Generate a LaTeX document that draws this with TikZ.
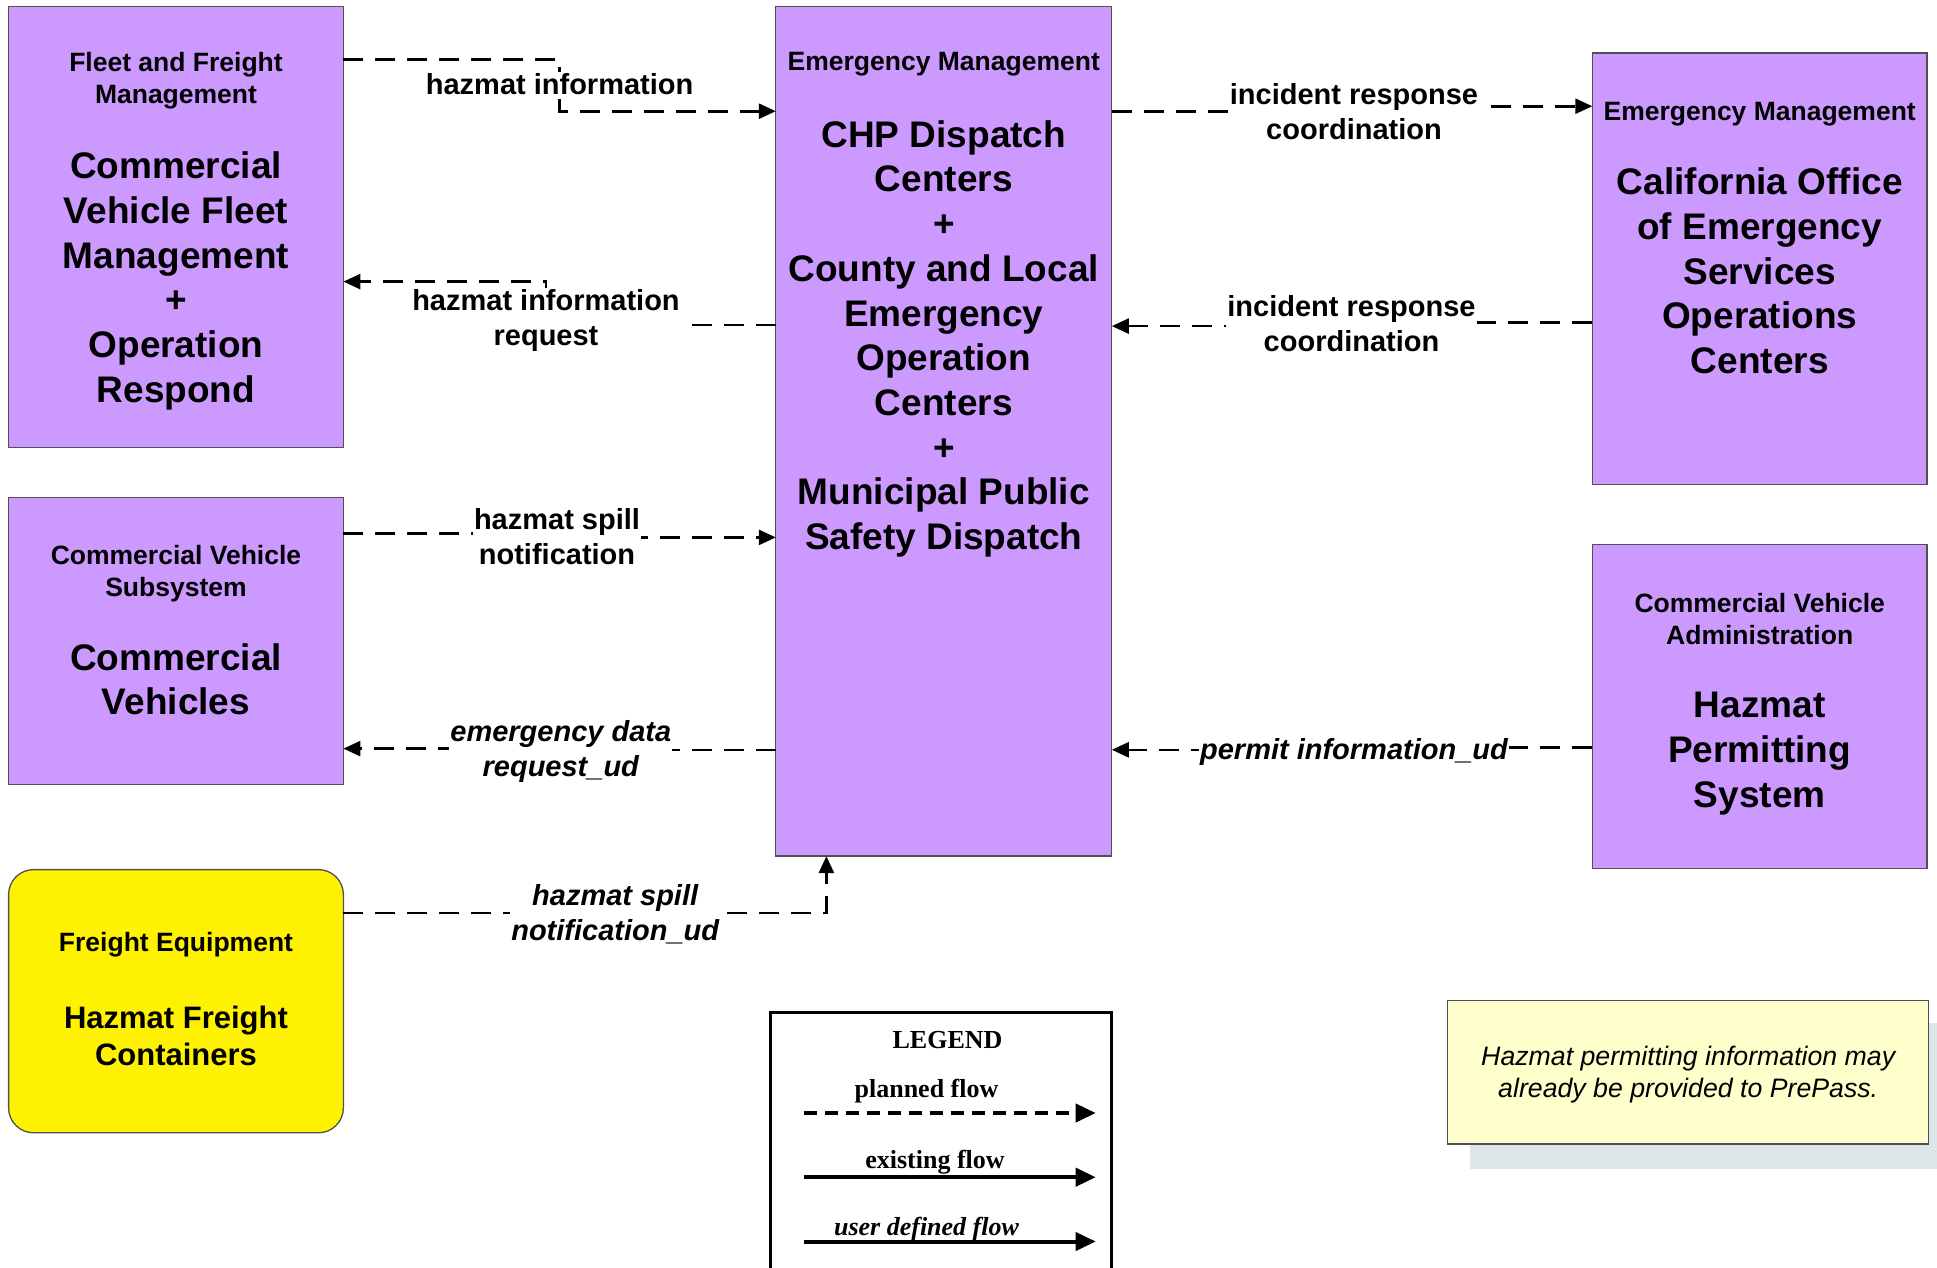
\documentclass[tikz,border=0pt]{standalone}
\usepackage{fontspec}
\setmainfont{Liberation Sans}
\newfontfamily\legendfont{Liberation Serif}
\usetikzlibrary{arrows.meta,calc}
\definecolor{boxpurple}{RGB}{204,153,255}
\definecolor{notefill}{RGB}{255,255,204}
\definecolor{noteshadow}{RGB}{221,230,232}
\definecolor{boxline}{RGB}{80,80,80}
\begin{document}
\begin{tikzpicture}[x=1pt,y=-1pt,
  sysbox/.style={draw=boxline, line width=1.3pt, fill=boxpurple, anchor=north west, inner sep=0pt, outer sep=0pt},
  hdr/.style={font=\fontsize{26.5}{32}\selectfont\bfseries, align=center, inner sep=0pt},
  big/.style={font=\fontsize{37}{44.7}\selectfont\bfseries, align=center, inner sep=0pt},
  flow/.style={line width=2.6pt, dash pattern=on 20pt off 12pt, -{Triangle[length=17pt,width=15pt]}},
  lbl/.style={font=\fontsize{29}{35}\selectfont\bfseries, align=center, fill=white, inner sep=1pt},
  ilbl/.style={font=\fontsize{29}{35}\selectfont\bfseries\itshape, align=center, fill=white, inner sep=1pt},
  legtxt/.style={font=\legendfont\bfseries\fontsize{26}{31}\selectfont, inner sep=0pt},
  legarrow/.style={line width=4pt, -{Triangle[length=20pt,width=18pt]}},
]
\clip (0,0) rectangle (1937,1267);
\fill[white] (0,0) rectangle (1937,1267);

% boxes
\node[sysbox, minimum width=334.8pt, minimum height=441pt] (fleet) at (8.6,6.2) {};
\node[sysbox, minimum width=334.8pt, minimum height=286.6pt] (cvs) at (8.6,497.8) {};
\node[sysbox, fill=yellow, rounded corners=25pt, minimum width=334.8pt, minimum height=263.2pt] (freight) at (8.6,869.6) {};
\node[sysbox, minimum width=336pt, minimum height=849.9pt] (em) at (775.8,6.2) {};
\node[sysbox, minimum width=334.7pt, minimum height=431.1pt] (caloes) at (1592.3,53.1) {};
\node[sysbox, minimum width=334.7pt, minimum height=323.6pt] (cva) at (1592.3,544.8) {};

% box texts
\node[hdr] (fleetH) at (176,80.3) {Fleet and Freight\\Management};
\node[big] (fleetB) at (176,281) {Commercial\\Vehicle Fleet\\Management\\+\\Operation\\Respond};
\node[hdr] (cvsH) at (176,573.5) {Commercial Vehicle\\Subsystem};
\node[big] (cvsB) at (176,679.2) {Commercial\\Vehicles};
\node[hdr] (freightH) at (176,945) {Freight Equipment};
\node[big, font=\fontsize{31}{37}\selectfont\bfseries] (freightB) at (176,1035.5) {Hazmat Freight\\Containers};
\node[hdr] (emH) at (943.8,64.3) {Emergency Management};
\node[big] (emB) at (943.8,338.8) {CHP Dispatch\\Centers\\+\\County and Local\\Emergency\\Operation\\Centers\\+\\Municipal Public\\Safety Dispatch};
\node[hdr] (caloesH) at (1759.7,113.7) {Emergency Management};
\node[big] (caloesB) at (1759.7,271) {California Office\\of Emergency\\Services\\Operations\\Centers};
\node[hdr] (cvaH) at (1759.7,619.5) {Commercial Vehicle\\Administration};
\node[big] (cvaB) at (1759.7,753.5) {Hazmat\\Permitting\\System};

% connector bend points
\coordinate (l1c) at (559.6,84);
\coordinate (l2c) at (546,317.5);
\coordinate (l3c) at (1354,111.2);
\coordinate (l4c) at (1351.5,323.6);
\coordinate (l5c) at (557,536);
\coordinate (l6c) at (560.8,748);
\coordinate (l7c) at (1354,749.8);
\coordinate (l8c) at (615.2,911.6);

% connectors
\draw[flow] ($(fleet.north east)+(0,53.1)$) -| (l1c) |- ($(em.north west)+(0,105)$);
\draw[flow] ($(em.north west)+(0,318.7)$) -| (l2c) |- ($(fleet.north east)+(0,275.4)$);
\draw[flow] ($(em.north east)+(0,105)$) -| (l3c) |- ($(caloes.north west)+(0,53.1)$);
\draw[flow] ($(caloes.north west)+(0,269.3)$) -| (l4c) |- ($(em.north east)+(0,319.9)$);
\draw[flow] ($(cvs.north east)+(0,35.9)$) -| (l5c) |- ($(em.north west)+(0,531.2)$);
\draw[flow] ($(em.north west)+(0,743.6)$) -| (l6c) |- ($(cvs.north east)+(0,250.8)$);
\draw[flow] ($(cva.north west)+(0,202.6)$) -| (l7c) |- ($(em.north east)+(0,743.6)$);
\draw[flow] ($(freight.north east)+(0,43.3)$) -| ($(em.south west)+(50.6,0)$);

% connector labels
\node[lbl] (l1) at (l1c) {hazmat information};
\node[lbl] (l2) at ($(l2c)+(0,2.5)$) {hazmat information\\request};
\node[lbl] (l3) at (l3c) {incident response\\coordination};
\node[lbl] (l4) at (l4c) {incident response\\coordination};
\node[lbl] (l5) at ($(l5c)+(0,1)$) {hazmat spill\\notification};
\node[ilbl] (l6) at ($(l6c)+(0,3)$) {emergency data\\request\_ud};
\node[ilbl] (l7) at ($(l7c)+(0,2)$) {permit information\_ud};
\node[ilbl] (l8) at ($(l8c)+(0,2.5)$) {hazmat spill\\notification\_ud};

% legend
\node[draw=black, line width=3pt, fill=white, anchor=north west, minimum width=341pt, minimum height=320pt, inner sep=0pt, outer sep=0pt] (legend) at (770.8,1012.9) {};
\node[legtxt] (legT) at (947.5,1040) {LEGEND};
\node[legtxt] (legP) at (926.5,1091.3) {planned flow};
\node[legtxt] (legE) at (935,1162.5) {existing flow};
\node[legtxt, font=\legendfont\bfseries\itshape\fontsize{26}{31}\selectfont] (legU) at (926.5,1229) {user defined flow};
\coordinate (lp1) at (804.2,1113);
\coordinate (lp2) at (1095.7,1113);
\coordinate (le1) at (804.2,1177.2);
\coordinate (le2) at (1095.7,1177.2);
\coordinate (lu1) at (804.2,1241.5);
\coordinate (lu2) at (1095.7,1241.5);
\draw[legarrow, dash pattern=on 13pt off 8pt] (lp1) -- (lp2);
\draw[legarrow] (le1) -- (le2);
\draw[legarrow] (lu1) -- (lu2);

% note
\fill[noteshadow] (1470,1022.6) rectangle (1950,1168.6);
\node[draw=boxline, line width=1.3pt, fill=notefill, anchor=north west, minimum width=480.8pt, minimum height=143.3pt, inner sep=0pt, outer sep=0pt] (note) at (1447.8,1000.6) {};
\node[font=\fontsize{26.7}{32}\selectfont\itshape, align=center, inner sep=0pt] (noteT) at ($(note.center)+(0,2.5)$) {Hazmat permitting information may\\already be provided to PrePass.};
\end{tikzpicture}
\end{document}
